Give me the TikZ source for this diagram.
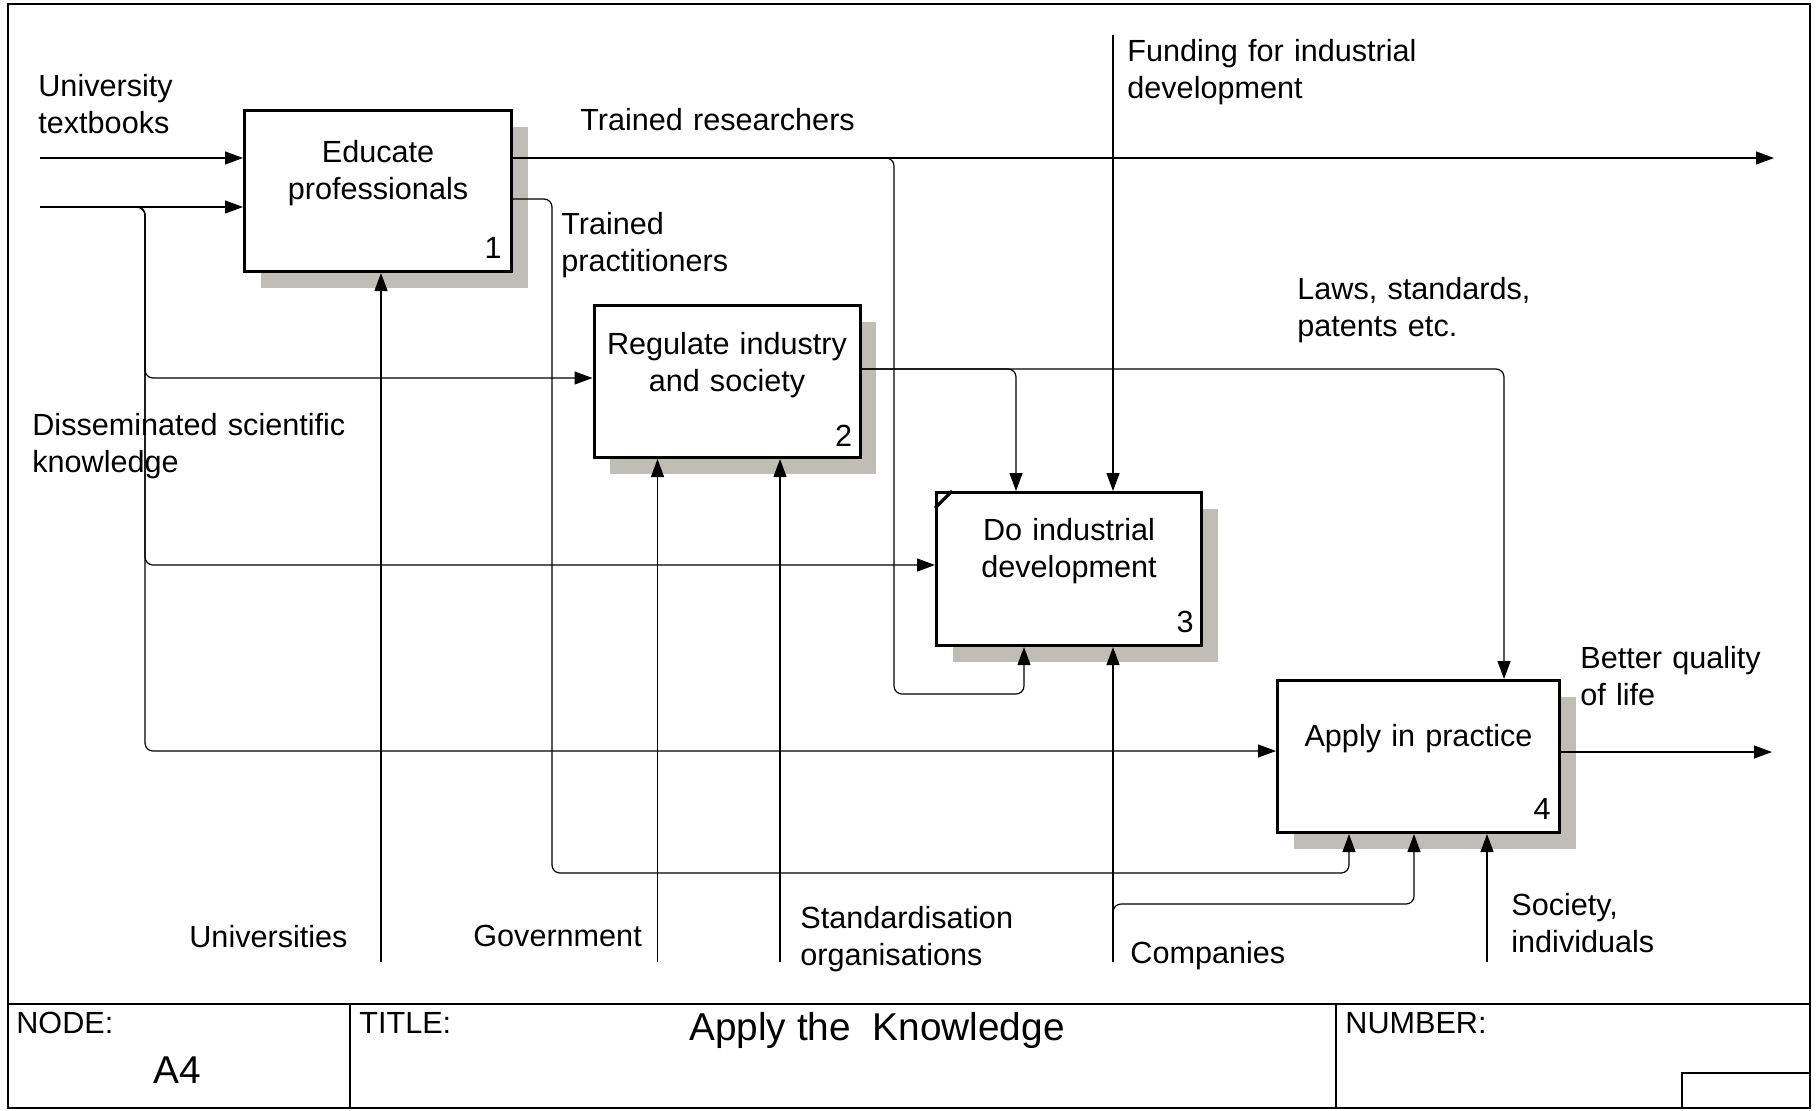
\documentclass[tikz,border=0pt]{standalone}
\usepackage{fontspec}
\setmainfont{Liberation Sans}
\usetikzlibrary{arrows.meta,shadows,calc}
\definecolor{shadowc}{RGB}{192,189,182}
\begin{document}
\begin{tikzpicture}[x=0.5pt,y=-0.5pt,
  every node/.style={font=\fontsize{15.3}{18.5}\selectfont, inner sep=0pt},
  fn/.style={draw, line width=1.5pt, fill=white,
    drop shadow={shadow xshift=8pt, shadow yshift=-8pt, fill=shadowc, opacity=1}},
  lbl/.style={text width=180pt, align=left, anchor=base west},
  btxt/.style={text width=132pt, align=center, anchor=base},
  num/.style={anchor=base east},
  big/.style={font=\fontsize{19.4}{23}\selectfont},
  ln/.style={line width=0.6pt},
  arr/.style={line width=0.6pt, -{Triangle[length=9pt,width=6.5pt]}},
  rc/.style={rounded corners=4pt},
  frame/.style={line width=0.8pt}]
\useasboundingbox (0,0) rectangle (1818,1110);

% title block / frame
\draw[frame] (8,4) rectangle (1810,1108);
\draw[frame] (8,1004) -- (1810,1004);
\draw[frame] (350,1004) -- (350,1108);
\draw[frame] (1336,1004) -- (1336,1108);
\draw[frame] (1682,1108) -- (1682,1073) -- (1810,1073);
\node[anchor=base west] (nodelbl) at (16,1033) {NODE:};
\node[anchor=base west, big] (nodeval) at (153,1083) {A4};
\node[anchor=base west] (titlelbl) at (359,1033) {TITLE:};
\node[anchor=base, big] (titleval) at (877,1040) {Apply the~ Knowledge};
\node[anchor=base west] (numlbl) at (1345,1033) {NUMBER:};

% boxes
\node[fn, minimum width=133.5pt, minimum height=80.5pt] (b1) at (378,191) {};
\node[fn, minimum width=133pt, minimum height=76pt] (b2) at (727,381.5) {};
\node[fn, minimum width=132.5pt, minimum height=76.5pt] (b3) at (1069,569) {};
\node[fn, minimum width=141pt, minimum height=76pt] (b4) at (1418.5,756.5) {};
\draw[line width=1.6pt] ([shift={(0,17)}]b3.north west) -- ([shift={(17,0)}]b3.north west);

\node[btxt] (t1) at (378,162) {Educate\\professionals};
\node[btxt] (t2) at (727,354) {Regulate industry\\and society};
\node[btxt] (t3) at (1069,540) {Do industrial\\development};
\node[btxt] (t4) at (1418.5,746) {Apply in practice};
\node[num] (n1) at ([shift={(-11,-15)}]b1.south east) {1};
\node[num] (n2) at ([shift={(-9,-13)}]b2.south east) {2};
\node[num] (n3) at ([shift={(-9,-15)}]b3.south east) {3};
\node[num] (n4) at ([shift={(-10,-15)}]b4.south east) {4};

% labels
\node[lbl] (lut) at (38,96) {University\\textbooks};
\node[lbl] (ldsk) at (32,435) {Disseminated scientific\\knowledge};
\node[lbl] (ltr) at (580,130) {Trained researchers};
\node[lbl] (ltp) at (561,234) {Trained\\practitioners};
\node[lbl] (lfund) at (1127,61) {Funding for industrial\\development};
\node[lbl] (llaws) at (1297,299) {Laws, standards,\\patents etc.};
\node[lbl] (lbq) at (1580,668) {Better quality\\of life};
\node[lbl] (luni) at (189,947) {Universities};
\node[lbl] (lgov) at (473,946) {Government};
\node[lbl] (lstd) at (800,928) {Standardisation\\organisations};
\node[lbl] (lcomp) at (1130,963) {Companies};
\node[lbl] (lsoc) at (1511,915) {Society,\\individuals};

% coordinates
\coordinate (in1) at (40,158);
\coordinate (in2) at (40,207);
\coordinate (j1) at (145,207);
\coordinate (j2) at (145,378);
\coordinate (j3) at (145,565);
\coordinate (j4) at (145,751);
\coordinate (uni) at (381,962);
\coordinate (gov) at (657.5,962);
\coordinate (std) at (780,962);
\coordinate (comp) at (1113,962);
\coordinate (cj) at (1113,904);
\coordinate (cb) at (1414,904);
\coordinate (soc) at (1487,962);
\coordinate (fund) at (1113,35);
\coordinate (rj) at (894,158);
\coordinate (rb) at (894,694);
\coordinate (rcn) at (1024,694);
\coordinate (tr) at (1774,158);
\coordinate (pj) at (552,199);
\coordinate (pb) at (552,873);
\coordinate (pc) at (1349,873);
\coordinate (lj) at (1016,369);
\coordinate (lk) at (1504,369);
\coordinate (bq) at (1772,752);

% inputs
\draw[arr] (in1) -- (in1 -| b1.west);
\draw[arr] (in2) -- (in2 -| b1.west);
\draw[arr, rc] (in2) -- (j1) -- (j2) -- (j2 -| b2.west);
\draw[arr, rc] (in2) -- (j1) -- (j3) -- (j3 -| b3.west);
\draw[arr, rc] (in2) -- (j1) -- (j4) -- (j4 -| b4.west);

% mechanisms
\draw[arr] (uni) -- (uni |- b1.south);
\draw[arr] (gov) -- (gov |- b2.south);
\draw[arr] (std) -- (std |- b2.south);
\draw[arr] (comp) -- (comp |- b3.south);
\draw[arr, rc] (comp) -- (cj) -- (cb) -- (cb |- b4.south);
\draw[arr] (soc) -- (soc |- b4.south);

% controls
\draw[arr] (fund) -- (fund |- b3.north);

% outputs
\draw[arr] (in1 -| b1.east) -- (tr);
\draw[arr, rc] (in1 -| b1.east) -- (rj) -- (rb) -- (rcn) -- (rcn |- b3.south);
\draw[arr, rc] (pj -| b1.east) -- (pj) -- (pb) -- (pc) -- (pc |- b4.south);
\draw[arr, rc] (lj -| b2.east) -- (lk) -- (lk |- b4.north);
\draw[arr, rc] (lj -| b2.east) -- (lj) -- (lj |- b3.north);
\draw[arr] (bq -| b4.east) -- (bq);
\end{tikzpicture}
\end{document}
